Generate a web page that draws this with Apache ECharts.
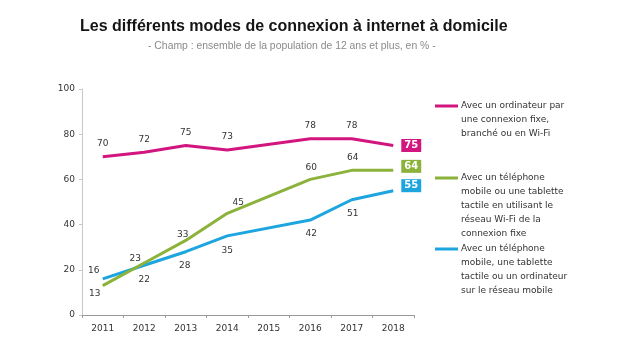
<!DOCTYPE html>
<html>
<head>
<meta charset="utf-8">
<script src="https://cdn.jsdelivr.net/npm/echarts@6/dist/echarts.min.js"></script>
<style>
html,body{margin:0;padding:0;background:#fff;}
#chart{width:620px;height:347px;}
</style>
</head>
<body>
<div id="chart"></div>
<script>
var titleText = 'Les différents modes de connexion à internet à domicile';
var subtitleText = '- Champ : ensemble de la population de 12 ans et plus, en % -';
var years = ['2011', '2012', '2013', '2014', '2015', '2016', '2017', '2018'];
var yTicks = [0, 20, 40, 60, 80, 100];

var seriesNames = [
  'Avec un ordinateur par\nune connexion fixe,\nbranché ou en Wi-Fi',
  'Avec un téléphone\nmobile ou une tablette\ntactile en utilisant le\nréseau Wi-Fi de la\nconnexion fixe',
  'Avec un téléphone\nmobile, une tablette\ntactile ou un ordinateur\nsur le réseau mobile'
];
var ordinateurFixe = [70, 72, 75, 73, null, 78, 78, 75];
var mobileWifi = [13, 23, 33, 45, null, 60, 64, 64];
var reseauMobile = [16, 22, 28, 35, null, 42, 51, 55];

var colors = ['#D3157F', '#8BB33B', '#1CA5DE'];

// label offsets (style only)
var offsets = [
  [[0,-13],[0,-13],[0,-13],[0,-13],null,[0,-13],[0,-13],[18,0]],
  [[-8,8],[-9,-4],[-3,-6],[11,-11],null,[1,-12],[1,-13],[18,-4]],
  [[-9,-8],[0,14],[-1,14],[0,15],null,[1,14],[1,14],[18,-5]]
];

var allData = [ordinateurFixe, mobileWifi, reseauMobile];
var lastIdx = years.length - 1;

function buildData(vals, si) {
  return vals.map(function (v, i) {
    if (v === null) return null;
    var off = offsets[si][i];
    var lab;
    if (i === lastIdx) {
      lab = {
        show: true, position: 'inside', offset: off,
        color: '#fff', fontWeight: 'bold', fontSize: 10,
        fontFamily: 'DejaVu Sans',
        backgroundColor: colors[si], padding: [2, 3, 1, 3]
      };
    } else {
      lab = { show: true, position: 'inside', offset: off };
    }
    return { value: v, label: lab };
  });
}

var series = allData.map(function (vals, si) {
  return {
    name: seriesNames[si],
    type: 'line',
    data: buildData(vals, si),
    connectNulls: true,
    symbol: 'circle',
    symbolSize: 0.01,
    showSymbol: true,
    lineStyle: { color: colors[si], width: 3 },
    itemStyle: { color: colors[si] },
    label: { color: '#333', fontSize: 9, fontFamily: 'DejaVu Sans' },
    emphasis: { disabled: true },
    animation: false,
    z: 3 - si
  };
});

var legendY = [106, 178, 249];
var graphics = [
  { type: 'text', x: 80, y: 27,
    style: { text: titleText, fill: '#151515', font: 'bold 16px "Liberation Sans"', verticalAlign: 'middle' } },
  { type: 'text', x: 148, y: 46,
    style: { text: subtitleText, fill: '#8a8a8a', font: '10.4px "Liberation Sans"', verticalAlign: 'middle' } }
];
seriesNames.forEach(function (n, si) {
  graphics.push({
    type: 'line', shape: { x1: 435, y1: legendY[si], x2: 458, y2: legendY[si] },
    style: { stroke: colors[si], lineWidth: 3 }
  });
  graphics.push({
    type: 'text', x: 461, y: legendY[si] - 7,
    style: { text: n, fill: '#333', font: '9px "DejaVu Sans"', lineHeight: 14, verticalAlign: 'top' }
  });
});

var chart = echarts.init(document.getElementById('chart'), null, { renderer: 'canvas' });
chart.setOption({
  backgroundColor: '#fff',
  animation: false,
  grid: { left: 82, right: 206, top: 89, bottom: 32, containLabel: false },
  xAxis: {
    type: 'category', data: years, boundaryGap: true,
    axisLine: { lineStyle: { color: '#999', width: 1 } },
    axisTick: { show: true, length: 3, lineStyle: { color: '#999' } },
    axisLabel: { color: '#333', fontSize: 9, fontFamily: 'DejaVu Sans', margin: 9 }
  },
  yAxis: {
    type: 'value', min: yTicks[0], max: yTicks[yTicks.length - 1], interval: 20,
    axisLine: { show: true, lineStyle: { color: '#c8c8c8', width: 1 } },
    axisTick: { show: true, length: 3, lineStyle: { color: '#c8c8c8' } },
    splitLine: { show: false },
    axisLabel: { color: '#333', fontSize: 9, fontFamily: 'DejaVu Sans', margin: 7 }
  },
  series: series,
  graphic: graphics
});
</script>
</body>
</html>
